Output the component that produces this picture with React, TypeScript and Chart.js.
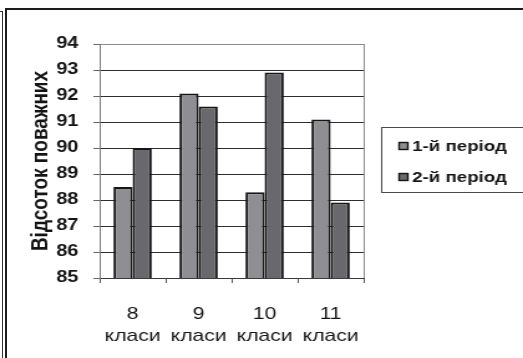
import { useEffect, useRef } from "react";
import { Chart, registerables } from "chart.js";

Chart.register(...registerables);

// Grade groups (two-line axis labels)
const classLabels: string[][] = [
  ["8", "класи"],
  ["9", "класи"],
  ["10", "класи"],
  ["11", "класи"],
];

// Share of respectful students, %
const period1: number[] = [88.5, 92.1, 88.3, 91.1];
const period2: number[] = [90.0, 91.6, 92.9, 87.9];

const seriesNames: string[] = ["1-й період", "2-й період"];
const yTitle = "Відсоток поважних";
const yMin = 85;
const yMax = 94;
const yStep = 1;

// The drawing surface is rendered narrower and widened with CSS
const CANVAS_W = 420;
const CANVAS_H = 358;
const VIEW_W = 523;

const FONT = "'Liberation Sans', Arial, sans-serif";

const plotFrame = {
  id: "plotFrame",
  afterDatasetsDraw(chart: any) {
    const { ctx, chartArea } = chart;
    ctx.save();
    ctx.strokeStyle = "#8a8a8a";
    ctx.lineWidth = 1;
    ctx.beginPath();
    ctx.moveTo(Math.round(chartArea.right) + 0.5, chartArea.top);
    ctx.lineTo(Math.round(chartArea.right) + 0.5, chartArea.bottom);
    ctx.stroke();
    ctx.restore();
  },
};

const sideLegend = {
  id: "sideLegend",
  afterDraw(chart: any) {
    const { ctx, chartArea } = chart;
    const left = Math.round(chartArea.right) + 14.5;
    const top = 127.5;
    const bottom = 192.5;
    ctx.save();
    ctx.fillStyle = "#ffffff";
    ctx.fillRect(left, top, 200, bottom - top);
    ctx.strokeStyle = "#4a4a4a";
    ctx.lineWidth = 1;
    ctx.strokeRect(left, top, 200, bottom - top);
    chart.data.datasets.forEach((ds: any, i: number) => {
      const cy = 146 + i * 31;
      const sx = left + 14;
      ctx.fillStyle = ds.backgroundColor;
      ctx.fillRect(sx, cy - 3.5, 7, 7);
      ctx.strokeStyle = "#151515";
      ctx.lineWidth = 1.4;
      ctx.strokeRect(sx, cy - 3.5, 7, 7);
      ctx.fillStyle = "#151515";
      ctx.font = `bold 15px ${FONT}`;
      ctx.textBaseline = "middle";
      ctx.textAlign = "left";
      ctx.fillText(ds.label, sx + 10.5, cy + 0.5);
    });
    ctx.restore();
  },
};

function BarChart() {
  const ref = useRef<HTMLCanvasElement | null>(null);

  useEffect(() => {
    if (!ref.current) return;
    const chart = new Chart(ref.current, {
      type: "bar",
      data: {
        labels: classLabels,
        datasets: [
          {
            label: seriesNames[0],
            data: period1,
            backgroundColor: "#8f8f93",
            borderColor: "#161616",
            borderWidth: 2,
            borderSkipped: false,
            categoryPercentage: 0.58,
            barPercentage: 1,
          },
          {
            label: seriesNames[1],
            data: period2,
            backgroundColor: "#69696d",
            borderColor: "#161616",
            borderWidth: 2,
            borderSkipped: false,
            categoryPercentage: 0.58,
            barPercentage: 1,
          },
        ],
      },
      options: {
        responsive: false,
        animation: false,
        devicePixelRatio: 1,
        layout: { padding: { top: 44, right: 128, bottom: 0, left: 0 } },
        plugins: {
          legend: { display: false },
          tooltip: { enabled: false },
        },
        scales: {
          x: {
            grid: {
              drawOnChartArea: false,
              drawTicks: true,
              tickLength: 5,
              color: "#555",
            },
            border: { display: true, color: "#3a3a3a", width: 1 },
            ticks: {
              color: "#151515",
              padding: 20,
              maxRotation: 0,
              autoSkip: false,
              font: { family: FONT, size: 17, lineHeight: 1.3 },
            },
            afterFit(scale: any) {
              scale.height = 80;
            },
          },
          y: {
            min: yMin,
            max: yMax,
            grid: {
              color: (c: any) => (c.tick && c.tick.value === yMax ? "#8a8a8a" : "#2e2e2e"),
              tickColor: "#666",
              tickLength: 5,
            },
            border: { display: true, color: "#7a7a7a", width: 1 },
            ticks: {
              stepSize: yStep,
              color: "#151515",
              padding: 12,
              font: { family: FONT, size: 16, weight: "bold" },
            },
            title: {
              display: true,
              text: yTitle,
              color: "#151515",
              padding: { top: 21, bottom: 0 },
              font: { family: FONT, size: 19, weight: "bold", lineHeight: 1.2 },
            },
            afterFit(scale: any) {
              scale.width = 80;
            },
          },
        },
      },
      plugins: [plotFrame, sideLegend],
    });
    return () => chart.destroy();
  }, []);

  return (
    <canvas
      ref={ref}
      width={CANVAS_W}
      height={CANVAS_H}
      style={{ width: `${VIEW_W}px`, height: `${CANVAS_H}px`, display: "block" }}
    />
  );
}

export default function App() {
  const line = (s: React.CSSProperties) => (
    <div style={{ position: "absolute", background: "#1c1c1c", ...s }} />
  );
  return (
    <div
      style={{
        position: "fixed",
        left: 0,
        top: 0,
        width: VIEW_W,
        height: CANVAS_H,
        background: "#fff",
        overflow: "hidden",
      }}
    >
      <BarChart />
      {line({ left: 5, top: 8, width: VIEW_W - 5, height: 2 })}
      {line({ left: 5, top: 8, width: 2, height: CANVAS_H - 8 })}
      {line({ left: 2, top: 11, width: 1, height: CANVAS_H - 11, background: "#333" })}
      {line({ left: 0, top: 11, width: 3, height: 1, background: "#333" })}
    </div>
  );
}
